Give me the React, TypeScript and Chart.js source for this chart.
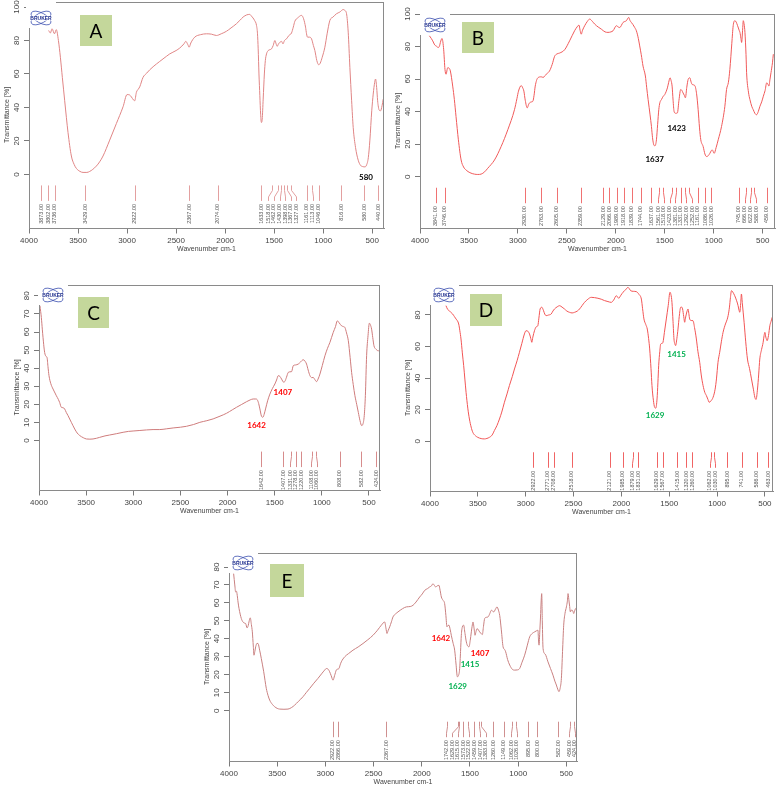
import React, { useEffect, useRef } from "react";
import { Chart, registerables } from "chart.js";
Chart.register(...registerables);

const FONT = '"Liberation Sans", Arial, sans-serif';
Chart.defaults.font.family = FONT;

// ---------- Panel A ----------
const wnA = [3800,3782,3765,3740,3722,3700,3680,3660,3636,3602,3568,3540,3517,3480,3449,3410,3381,3350,3313,3280,3245,3177,3109,3041,3000,2975,2956,2935,2922,2905,2885,2871,2837,2800,2769,2700,2667,2600,2565,2500,2463,2420,2401,2380,2367,2350,2310,2250,2191,2140,2089,2040,1987,1940,1885,1850,1817,1780,1749,1732,1700,1680,1670,1663,1655,1646,1638,1630,1622,1612,1600,1590,1578,1561,1545,1527,1510,1493,1480,1470,1455,1440,1425,1410,1395,1374,1350,1323,1305,1289,1260,1221,1200,1180,1170,1160,1140,1119,1100,1085,1065,1046,1030,1010,983,960,932,900,864,830,796,780,762,745,728,710,694,670,643,620,592,575,558,540,524,505,490,475,466,455,445,439,430,415,400,388];
const tA = [86,84.5,87,84,86.5,80,70,58,44,25,11,6,3.6,1.8,1.2,1.2,1.8,3,5,7.5,11,20.5,30.4,40.4,47.7,47.5,46.3,44.5,44,49,51,52.3,58,60.5,62.5,66,67.5,70.5,72,74,75.5,78,79.5,77.5,76,78.5,82,83.5,84,83.8,83,84,85.5,87.5,90,92,94,95.3,95.6,94.6,92,89,84,75,60,47,36,31,33,45,60,68,72,74,74.5,75,77,80,78,76.5,78,79,79.5,78,80,81,83,84.5,88,91.5,93.5,95,93,88,84,82,82,81,77,74,68,65.5,66.5,70,76,84,92,94,96,97,98.5,98,96,85,64,44,28,16,8.5,5.5,4.6,4.5,5.6,10,20.5,38,48,55,57,52,44,41,38.5,38,41,45];
const peaksA = [3873,3802,3736,3429,2922,2367,2074,1633,1518,1462,1430,1398,1367,1327,1161,1113,1046,816,580,440];
const notesA = [{ text: "580", wn: 564, t: -1.6, color: "#000000" }];

// ---------- Panel B ----------
const wnB = [3904,3885,3870,3850,3836,3812,3800,3792,3775,3758,3745,3734,3717,3700,3690,3666,3649,3632,3608,3580,3555,3529,3490,3444,3410,3376,3340,3308,3239,3171,3103,3035,3010,2994,2966,2950,2939,2925,2905,2890,2881,2860,2847,2835,2823,2796,2762,2740,2728,2700,2677,2650,2625,2600,2574,2523,2472,2421,2390,2376,2365,2353,2340,2318,2290,2267,2240,2216,2180,2148,2110,2080,2050,2028,1994,1975,1960,1926,1892,1868,1855,1841,1825,1807,1790,1770,1756,1740,1722,1698,1685,1670,1650,1636,1625,1612,1600,1585,1573,1561,1550,1534,1515,1500,1473,1460,1446,1435,1425,1415,1405,1390,1371,1355,1337,1325,1313,1300,1289,1275,1261,1244,1230,1220,1193,1175,1159,1145,1132,1108,1090,1073,1055,1039,1025,1015,995,975,954,920,886,869,850,835,815,801,784,770,756,740,732,722,715,705,698,690,681,670,664,645,630,610,596,580,562,545,528,510,493,475,459,448,436,425,415,400,391];
const tB = [86.6,85,83.5,81,80.4,79.4,80.5,82.5,85,78,66,63,67,66.5,65,55.7,47.4,37,22.7,10.3,6,4.1,2.5,1.6,1.4,1.6,3,5.2,10.3,18.6,28.9,41.2,48,52.6,56,54.5,52.6,47,42.3,44.5,45.4,46,46.4,50,55.7,60.8,61.4,61,61.9,63.5,65,69,74,75.5,76,78,83.5,89.7,92.5,93.2,90,87.6,90,92.8,95.5,96.9,95.5,93.8,92,90.7,89,88.7,89,89.7,92.8,92,91.7,94.8,95.9,97.9,96,94.8,93.5,91.7,89.7,85,80.4,75,68,61.9,55,47.4,38,30.9,24,19.6,19,22.7,32,41.2,45.5,47.4,49.5,50.5,54.6,58,60.8,59,55.7,47,40.2,39,39.2,47,53.6,53,51.5,50,48.5,55,59.8,60.8,58,56.7,56,51,41.2,30,22.7,18.6,14,12.4,13,14.4,16,16.5,14.4,18,22.7,30.9,43.3,53.6,58,66,82,92.8,95.9,95,92.8,90,88.7,85,82.5,90,95.9,94,88.7,75,63.9,52,47.4,43,41.2,39,38.1,40,43.3,46,49.5,53,57.7,57,55.7,60,63.9,70,75.3];
const peaksB = [3841,3746,2930,2763,2605,2359,2129,2066,1989,1918,1839,1744,1637,1561,1518,1423,1381,1331,1292,1252,1161,1086,1026,745,666,622,588,459];
const notesB = [
  { text: "1423", wn: 1378, t: 29.8, color: "#000000" },
  { text: "1637", wn: 1603, t: 10.9, color: "#000000" },
];

// ---------- Panel C ----------
const wnC = [3990,3975,3965,3950,3940,3925,3915,3905,3894,3875,3851,3830,3816,3795,3781,3763,3745,3728,3710,3692,3657,3621,3595,3568,3530,3497,3460,3427,3390,3356,3300,3250,3180,3108,3050,3002,2930,2860,2790,2719,2650,2577,2500,2436,2360,2294,2220,2153,2080,2011,1950,1905,1850,1799,1760,1728,1700,1685,1670,1657,1640,1625,1612,1597,1575,1551,1525,1498,1480,1462,1445,1427,1405,1392,1375,1356,1340,1321,1303,1280,1250,1225,1197,1180,1162,1145,1126,1108,1091,1075,1056,1040,1020,995,967,940,914,879,855,836,815,790,770,755,738,719,700,684,667,649,630,613,595,578,565,550,538,525,510,496,485,472,460,447,432,419,400,390];
const tC = [74.5,68,61.6,53,48.7,46.5,46,41,35.9,31.5,28.5,26.3,24.8,22.8,21.1,18.4,18.2,17.5,15.5,13.8,10.1,6.4,4.2,2.8,1.6,0.9,0.8,0.9,1.3,1.8,2.6,3.1,3.8,4.6,5.1,5.3,5.6,5.9,6.1,6.1,6.5,7,7.4,7.9,8.9,10.1,11,12,13.5,15.1,17,18.4,20,21.5,22.5,23,23,22.6,20.5,17.5,13.5,12.9,14.5,17.5,22,25.7,28.7,31.3,33.5,35.9,35.5,34,32.3,32.7,35,37.7,38,38.1,41.4,41.8,42.3,43.5,44.7,44,42.3,39,35.9,34.8,34.9,33.8,32.6,34,36.8,41.5,46.9,51,54.3,59.8,63,66.2,65,63.4,63,62.5,59.5,55.2,46,37.7,31,24.8,20,15.6,11,8.3,9,13.8,25,46.9,58,64.9,64,61.6,57,52.4,50.8,50.2,49.5,50.2];
const peaksC = [1642,1407,1331,1278,1220,1108,1060,808,582,424];
const notesC = [
  { text: "1407", wn: 1413, t: 26.5, color: "#ff0000" },
  { text: "1642", wn: 1692, t: 8.6, color: "#ff0000" },
];

// ---------- Panel D ----------
const wnD = [3833,3815,3798,3780,3763,3745,3728,3700,3688,3676,3662,3648,3623,3605,3588,3570,3553,3525,3501,3465,3431,3405,3379,3350,3327,3300,3274,3250,3222,3195,3170,3140,3117,3090,3065,3040,3013,2997,2985,2972,2960,2946,2936,2925,2908,2890,2873,2862,2849,2831,2815,2800,2786,2760,2734,2715,2699,2670,2646,2620,2594,2570,2542,2515,2489,2460,2437,2410,2385,2350,2315,2280,2245,2210,2175,2140,2106,2080,2053,2040,2029,2005,1983,1955,1931,1915,1903,1875,1844,1815,1791,1778,1764,1745,1729,1715,1704,1690,1680,1665,1652,1640,1627,1618,1610,1598,1589,1575,1565,1550,1530,1510,1492,1482,1471,1460,1450,1440,1433,1420,1408,1395,1380,1370,1360,1348,1338,1330,1321,1310,1303,1295,1286,1270,1251,1235,1216,1200,1181,1165,1146,1128,1111,1095,1083,1065,1041,1020,1006,990,972,955,937,912,895,884,870,860,849,835,815,795,780,770,762,752,745,735,717,700,682,660,640,620,605,592,577,565,553,535,518,508,500,490,476,462,448,435,423,415];
const tD = [85.9,83.5,82.7,81.5,80.6,79,77.5,74.3,70,64.8,56,47.9,31,21,14.1,9,5.7,3.5,2.5,1.7,1.5,1.8,2.5,4,6.8,10,14.1,18.5,24.7,30,35.3,41,45.8,51,56.4,62,68,70,70,69.3,68,65,62.7,66,70,72.5,73.2,78,83.8,84.9,83,80.5,79.6,80,80.6,82.5,83.8,85.2,85.9,85,83.8,82.5,81.7,81.3,81.7,82.5,83.8,86,88,90,91.2,91,90.6,90,89.1,88.5,88,89.5,92.2,91.5,90.6,92.5,94.4,96,97.5,96.5,95.4,95,94.8,93,90.1,84,77.5,74,71.1,65,58.5,46,35.3,26,21.5,21,26.8,37,47.9,57,61.6,62,62.7,69,77.5,86,94.4,93,88,76,64.8,61.5,60.6,65,71.1,79,84.9,85,83.8,79,75.4,78,80.6,83,83.8,81,77.5,76.5,76.4,72,64.8,57,50,42,35.3,31,28.9,26.5,24.7,25.5,27.9,33,39.5,50,56.4,63,69,74.3,77,79.6,85,91,95.4,94.5,92.2,89,85.9,83,81.7,88,93.3,87,75.4,63,52.1,46,39.5,33,27.9,26.5,33.1,42,52.1,58,62.7,67,69,66,63.7,67,73.2,76,78.5,79];
const peaksD = [2922,2771,2708,2518,2121,1985,1879,1831,1629,1567,1415,1320,1260,1062,1030,895,741,586,463];
const notesD = [
  { text: "1415", wn: 1423, t: 54.9, color: "#00b050" },
  { text: "1629", wn: 1648, t: 16.5, color: "#00b050" },
];

// ---------- Panel E ----------
const wnE = [3952,3940,3931,3922,3917,3905,3896,3872,3855,3840,3827,3813,3800,3793,3779,3768,3758,3748,3741,3732,3723,3710,3699,3682,3665,3640,3613,3595,3578,3550,3526,3500,3474,3430,3388,3350,3319,3280,3232,3200,3163,3120,3077,3040,3008,2990,2970,2956,2940,2921,2905,2887,2870,2859,2847,2835,2800,2760,2714,2660,2610,2560,2506,2460,2420,2385,2372,2361,2350,2333,2315,2299,2270,2247,2200,2160,2120,2091,2060,2022,1995,1970,1940,1918,1900,1884,1870,1856,1840,1822,1810,1797,1780,1763,1750,1739,1728,1718,1705,1694,1675,1659,1645,1631,1620,1607,1598,1590,1580,1566,1552,1538,1524,1510,1498,1486,1478,1469,1458,1448,1438,1427,1413,1400,1386,1372,1360,1348,1330,1313,1295,1279,1265,1254,1236,1220,1205,1192,1175,1157,1140,1130,1110,1088,1060,1036,1010,985,960,933,905,881,855,829,810,795,790,784,775,767,760,756,750,742,720,691,665,639,620,604,590,577,565,552,540,528,515,500,490,483,475,466,459,450,438,430,424,415,403,395];
const tE = [76.3,70,66.1,66.5,65.2,60,56.9,51.3,49.4,48.8,48.5,46.1,47.5,49.4,51.7,48,43.9,36,30.9,33,35.6,37.5,37.4,33.7,29.1,21.7,12.4,8.5,5.9,3.5,2.2,1.3,0.9,0.8,0.9,1.8,3.1,5.2,7.8,10,12.4,15.3,18,20.5,22.6,23.5,23,21.7,19.5,17,19.5,22.6,23.2,23.5,25.5,27.2,30,31.8,33.7,35.5,37.4,39.5,42,44.8,47.6,49.4,46,43,44.5,46.7,49.5,52.2,54,55,56.8,57.8,58,58.7,60.5,63.3,65,67,68,68.9,69.5,70.7,69.8,68.9,69.5,69.8,67,63.3,61.5,59.6,53,46.7,47.5,47.6,45,42,37.5,33.7,26,18.9,19.5,23.5,33,42,46.5,47.6,43,38.3,36,35.6,39,43.9,47,49.4,46,42,44,45.7,45,43.9,43,42.4,47,51.3,52,52.2,54,55.9,55.5,55,56.5,57.8,56,53.1,45,35.6,34,32.8,28.5,25.4,23,22.6,22.7,23.5,27,30.9,36.5,41.1,43,43.9,44.5,44.8,40,36.5,45,54.1,63,65.2,50,34.6,31.5,27.2,23.5,19.8,16.5,14.3,12,10.6,12.5,18,33,47.6,54,57.8,61,65.2,62,58,55,56,55.9,55,54.1,55.5,56.9,56];
const peaksE = [2922,2866,2367,1742,1629,1615,1573,1522,1459,1407,1383,1260,1149,1062,1026,895,800,582,459,424];
const notesE = [
  { text: "1642", wn: 1801, t: 40, color: "#ff0000" },
  { text: "1407", wn: 1396, t: 32.1, color: "#ff0000" },
  { text: "1415", wn: 1500, t: 25.8, color: "#00b050" },
  { text: "1629", wn: 1628, t: 13.6, color: "#00b050" },
];

const xTicks = [4000, 3500, 3000, 2500, 2000, 1500, 1000, 500];
const yTicks100 = [0, 20, 40, 60, 80, 100];
const yTicks80 = [0, 20, 40, 60, 80];
const yTicks10 = [0, 10, 20, 30, 40, 50, 60, 70, 80];

type Note = { text: string; wn: number; t: number; color: string };
type PanelDef = {
  letter: string;
  wn: number[];
  t: number[];
  peaks: number[];
  notes: Note[];
  area: { left: number; top: number; right: number; bottom: number };
  xMin: number;
  yMin: number;
  yMax: number;
  yTicks: number[];
  tickPad: number;
  lineColor: string;
  markColor: string;
  box: { dx: number; dy: number; w: number; h: number };
  logo: { dx: number; dy: number };
};

const panels: PanelDef[] = [
  {
    letter: "A", wn: wnA, t: tA, peaks: peaksA, notes: notesA,
    area: { left: 29, top: 2, right: 384, bottom: 228 }, xMin: 380, yMin: -32, yMax: 103,
    yTicks: yTicks100, tickPad: 1, lineColor: "#e08585", markColor: "#e3a0a0",
    box: { dx: 51, dy: 13, w: 32, h: 31 }, logo: { dx: -2, dy: 6 },
  },
  {
    letter: "B", wn: wnB, t: tB, peaks: peaksB, notes: notesB,
    area: { left: 420, top: 14, right: 775, bottom: 228 }, xMin: 374, yMin: -31.5, yMax: 100,
    yTicks: yTicks100, tickPad: 1, lineColor: "#f05a5a", markColor: "#f07272",
    box: { dx: 42, dy: 8, w: 32, h: 31 }, logo: { dx: 1, dy: 1 },
  },
  {
    letter: "C", wn: wnC, t: tC, peaks: peaksC, notes: notesC,
    area: { left: 39, top: 285, right: 380, bottom: 490 }, xMin: 383, yMin: -27.3, yMax: 86,
    yTicks: yTicks10, tickPad: 2.5, lineColor: "#cf7c7c", markColor: "#d78c8c",
    box: { dx: 39, dy: 12, w: 31, h: 31 }, logo: { dx: 0, dy: 0 },
  },
  {
    letter: "D", wn: wnD, t: tD, peaks: peaksD, notes: notesD,
    area: { left: 430, top: 285, right: 773, bottom: 491 }, xMin: 415, yMin: -31.5, yMax: 99,
    yTicks: yTicks80, tickPad: 2.5, lineColor: "#f25555", markColor: "#f06464",
    box: { dx: 40, dy: 9, w: 32, h: 32 }, logo: { dx: 0, dy: 0 },
  },
  {
    letter: "E", wn: wnE, t: tE, peaks: peaksE, notes: notesE,
    area: { left: 229, top: 553, right: 577, bottom: 761 }, xMin: 390, yMin: -28, yMax: 87.8,
    yTicks: yTicks10, tickPad: 2.5, lineColor: "#c98080", markColor: "#cf9090",
    box: { dx: 41, dy: 11, w: 34, h: 33 }, logo: { dx: 0, dy: 0 },
  },
];

const PAD_L = 2, PAD_T = 8, PAD_R = 8, Y_W = 30, X_H = 28;

function panelPlugin(p: PanelDef) {
  return {
    id: "panel" + p.letter,
    afterDraw(chart: any) {
      const { ctx, chartArea: a, scales } = chart;
      const xs = scales.x, ys = scales.y;
      ctx.save();
      // frame
      ctx.strokeStyle = "#8a8a8a";
      ctx.lineWidth = 1;
      ctx.strokeRect(Math.round(a.left) + 0.5, Math.round(a.top) + 0.5, Math.round(a.right - a.left) - 1, Math.round(a.bottom - a.top));

      // peak markers
      const zero = ys.getPixelForValue(0);
      const items = p.peaks
        .map((w) => ({ w, px: xs.getPixelForValue(w), lx: xs.getPixelForValue(w) }))
        .sort((m, n) => m.px - n.px);
      const gap = 5.6;
      for (let iter = 0; iter < 80; iter++) {
        for (let i = 1; i < items.length; i++) {
          const d = items[i].lx - items[i - 1].lx;
          if (d < gap) {
            const s = (gap - d) / 2;
            items[i].lx += s;
            items[i - 1].lx -= s;
          }
        }
      }
      const y1 = zero + 11, y2 = zero + 26.5;
      ctx.strokeStyle = p.markColor;
      ctx.lineWidth = 1;
      for (const it of items) {
        ctx.beginPath();
        const tx = Math.round(it.px) + 0.5, lx = Math.round(it.lx) + 0.5;
        ctx.moveTo(tx, y1);
        if (Math.abs(tx - lx) > 0.6) {
          ctx.lineTo(tx, y1 + 5);
          ctx.lineTo(lx, y2 - 4);
        }
        ctx.lineTo(lx, y2);
        ctx.stroke();
      }
      ctx.fillStyle = "#555555";
      ctx.font = "5.5px " + FONT;
      ctx.textAlign = "right";
      ctx.textBaseline = "middle";
      for (const it of items) {
        ctx.save();
        ctx.translate(it.lx, zero + 29.5);
        ctx.rotate(-Math.PI / 2);
        ctx.fillText(it.w.toFixed(2), 0, 0);
        ctx.restore();
      }

      // notes
      ctx.font = 'bold 8px Lato, "Open Sans", sans-serif';
      ctx.textAlign = "center";
      ctx.textBaseline = "middle";
      for (const n of p.notes) {
        ctx.fillStyle = n.color;
        ctx.fillText(n.text, xs.getPixelForValue(n.wn), ys.getPixelForValue(n.t));
      }

      // letter box
      const bx = a.left + p.box.dx, by = a.top + p.box.dy;
      ctx.fillStyle = "#c4d79b";
      ctx.fillRect(bx, by, p.box.w, p.box.h);
      ctx.fillStyle = "#000000";
      ctx.font = '19px Lato, "Open Sans", sans-serif';
      ctx.fillText(p.letter, bx + p.box.w / 2, by + p.box.h / 2 + 1);

      // Bruker logo
      const lx = a.left + p.logo.dx, ly = a.top + p.logo.dy;
      ctx.fillStyle = "#ffffff";
      ctx.fillRect(lx - 1, a.top - 1, 30, ly - a.top + 21);
      ctx.strokeStyle = "#3b4fb0";
      ctx.lineWidth = 0.8;
      ctx.beginPath();
      ctx.ellipse(lx + 14, ly + 10, 11, 5, 0.5, 0, Math.PI * 2);
      ctx.stroke();
      ctx.beginPath();
      ctx.ellipse(lx + 14, ly + 10, 11, 5, -0.5, 0, Math.PI * 2);
      ctx.stroke();
      ctx.fillStyle = "#ffffff";
      ctx.fillRect(lx + 2, ly + 7.6, 24, 5);
      ctx.fillStyle = "#1b2b8c";
      ctx.font = "bold 5px " + FONT;
      ctx.fillText("BRUKER", lx + 14, ly + 10.3);
      ctx.restore();
    },
  };
}

function makeChart(canvas: HTMLCanvasElement, p: PanelDef) {
  const data = p.wn.map((w, i) => ({ x: w, y: p.t[i] }));
  return new Chart(canvas, {
    type: "line",
    data: {
      datasets: [
        {
          data,
          borderColor: p.lineColor,
          borderWidth: 1,
          pointRadius: 0,
          fill: false,
          cubicInterpolationMode: "monotone",
        },
      ],
    },
    options: {
      animation: false,
      responsive: false,
      events: [],
      layout: { padding: { left: PAD_L, top: PAD_T, right: PAD_R, bottom: 0 } },
      plugins: { legend: { display: false }, tooltip: { enabled: false } },
      scales: {
        x: {
          type: "linear",
          reverse: true,
          min: p.xMin,
          max: 4000,
          afterBuildTicks: (s: any) => {
            s.ticks = xTicks.map((v) => ({ value: v }));
          },
          afterFit: (s: any) => {
            s.height = X_H;
          },
          grid: { display: true, drawOnChartArea: false, drawTicks: true, tickLength: 5.5, color: "#7a7a7a" },
          border: { display: true, color: "#8a8a8a", width: 1 },
          ticks: {
            font: { size: 8, family: FONT },
            color: "#444444",
            padding: 2,
            maxRotation: 0,
            minRotation: 0,
            autoSkip: false,
            callback: (v: any) => String(v),
          },
          title: {
            display: true,
            text: "Wavenumber cm-1",
            font: { size: 7, family: FONT },
            color: "#444444",
            padding: { top: 0, bottom: 3.2 },
          },
        },
        y: {
          type: "linear",
          min: p.yMin,
          max: p.yMax,
          afterBuildTicks: (s: any) => {
            s.ticks = p.yTicks.map((v) => ({ value: v }));
          },
          afterFit: (s: any) => {
            s.width = Y_W;
          },
          grid: { display: true, drawOnChartArea: false, drawTicks: true, tickLength: 5, color: "#7a7a7a" },
          border: { display: true, color: "#8a8a8a", width: 1 },
          ticks: {
            font: { size: 8, family: FONT },
            color: "#444444",
            minRotation: 90,
            maxRotation: 90,
            crossAlign: "center",
            padding: p.tickPad,
            autoSkip: false,
            callback: (v: any) => String(v),
          },
          title: {
            display: true,
            text: "Transmittance [%]",
            font: { size: 7, family: FONT },
            color: "#444444",
            padding: { top: 3.8, bottom: 0 },
          },
        },
      },
    } as any,
    plugins: [panelPlugin(p)],
  });
}

function PanelView({ p }: { p: PanelDef }) {
  const ref = useRef<HTMLCanvasElement>(null);
  useEffect(() => {
    const chart = makeChart(ref.current as HTMLCanvasElement, p);
    return () => chart.destroy();
  }, [p]);
  const left = p.area.left - Y_W - PAD_L;
  const top = p.area.top - PAD_T;
  const w = p.area.right - left + PAD_R;
  const h = p.area.bottom - top + X_H;
  return (
    <canvas
      ref={ref}
      width={w}
      height={h}
      style={{ position: "absolute", left, top, width: w, height: h }}
    />
  );
}

export default function App() {
  return (
    <div style={{ position: "absolute", left: 0, top: 0, width: 777, height: 786, background: "#ffffff", overflow: "hidden" }}>
      {panels.map((p) => (
        <PanelView key={p.letter} p={p} />
      ))}
    </div>
  );
}
